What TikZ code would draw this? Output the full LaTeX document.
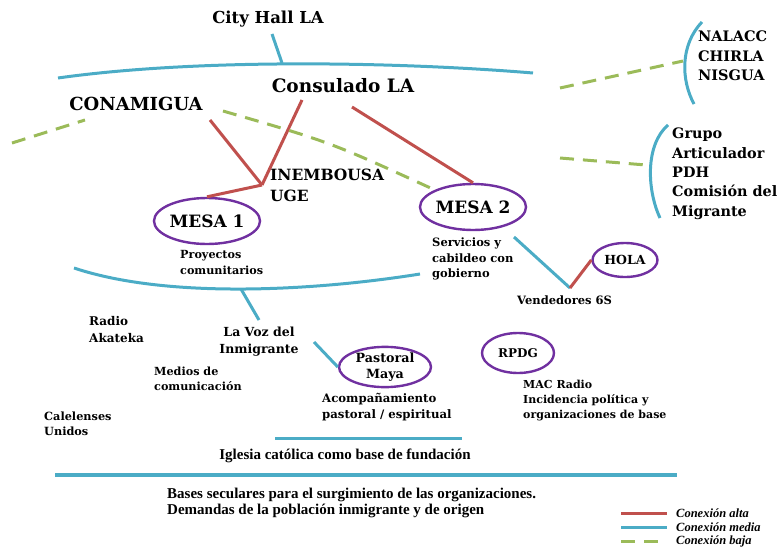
\documentclass[tikz,border=0pt]{standalone}
\usepackage{fontspec}
\setmainfont{DejaVu Serif}
\newfontfamily\condfont{Liberation Serif}
\usepackage{xcolor}
\usetikzlibrary{positioning, shapes.geometric}

\definecolor{alta}{HTML}{C0504D}
\definecolor{media}{HTML}{4BACC6}
\definecolor{baja}{HTML}{9BBB59}
\definecolor{mesa}{HTML}{7030A0}

\newcommand{\fs}[2]{\bfseries\fontsize{#1}{#2}\selectfont}

\tikzset{
  alto/.style={draw=alta, line width=3pt},
  medio/.style={draw=media, line width=3pt},
  bajo/.style={draw=baja, line width=3pt, dash pattern=on 14pt off 9pt},
  org/.style={inner sep=0pt, align=left, anchor=north west},
  rueda/.style={ellipse, draw=mesa, line width=2.4pt, inner sep=0pt, align=center},
}

\begin{document}
\begin{tikzpicture}[x=1pt, y=-1pt]
        \useasboundingbox (0,0) rectangle (777,552);
%
        \node[font=\fs{16.5}{20}] (city) at (268,19) {City Hall LA};
        \node[font=\fs{18.5}{22}] (consulado) at (343,86) {Consulado LA};
        \node[font=\fs{18}{22}] (conamigua) at (136,104) {CONAMIGUA};
        \node[org, font=\fs{15.5}{21}] (inembousa) at (270,169) {INEMBOUSA\\UGE};
        \node[rueda, minimum width=99pt, minimum height=46pt, font=\fs{17}{20}] (mesa1) at (207,221) {MESA 1};
        \node[rueda, minimum width=98pt, minimum height=46pt, font=\fs{17}{20}] (mesa2) at (473,207) {MESA 2};
        \node[org, font=\fs{11.2}{16}] (proyectos) at (180,250) {Proyectos\\comunitarios};
        \node[org, font=\fs{11.5}{15.5}] (servicios) at (432,238) {Servicios y\\cabildeo con\\gobierno};
        \node[rueda, minimum width=65pt, minimum height=34pt, font=\fs{12.5}{15}] (hola) at (625,260) {HOLA};
        \node[org, font=\fs{11.5}{14}] (vendedores) at (517,296) {Vendedores 6S};
        \node[rueda, minimum width=72pt, minimum height=40pt, font=\fs{12}{15}] (rpdg) at (518,353) {RPDG};
        \node[org, font=\fs{11}{15}] (mac) at (523,380) {MAC Radio\\Incidencia política y\\organizaciones de base};
        \node[org, font=\fs{14.5}{19.5}] (nalacc) at (698,31) {NALACC\\CHIRLA\\NISGUA};
        \node[org, font=\fs{14.4}{19.3}] (grupo) at (672,128) {Grupo\\Articulador\\PDH\\Comisión del\\Migrante};
        \node[org, font=\fs{12}{17}] (radio) at (89,316) {Radio\\Akateka};
        \node[align=center, inner sep=0pt, font=\fs{12.5}{17}] (voz) at (259,342) {La Voz del\\Inmigrante};
        \node[org, font=\fs{11.2}{15}] (medios) at (154,367) {Medios de\\comunicación};
        \node[rueda, minimum width=92pt, minimum height=40pt, font=\fs{12.7}{16}] (pastoral) at (385,367) {Pastoral\\Maya};
        \node[org, font=\fs{11.7}{16}] (acomp) at (322,393) {Acompañamiento\\pastoral / espiritual};
        \node[org, font=\fs{11.3}{15}] (calelenses) at (44,412) {Calelenses\\Unidos};
        \node[font=\condfont\fs{15}{18}] (iglesia) at (345,456) {Iglesia católica como base de fundación};
        \node[org, font=\condfont\fs{15}{16}] (bases) at (167,488)
            {Bases seculares para el surgimiento de las organizaciones.\\Demandas de la población inmigrante y de origen};
%
        % puntos libres de los conectores
        \coordinate (ch) at (272,34);
        \coordinate (arcA) at (58,78);
        \coordinate (arcApk) at (282,63);
        \coordinate (arcB) at (533,73);
        \coordinate (emb) at (262,185);
        \coordinate (co1) at (210,120);
        \coordinate (cs1) at (302,100);
        \coordinate (cs2) at (352,107);
        \coordinate (bj1) at (12,143);
        \coordinate (bj2) at (85,120);
        \coordinate (bj3) at (223,111);
        \coordinate (bj4) at (560,88);
        \coordinate (bj5) at (683,61);
        \coordinate (bj6) at (560,158);
        \coordinate (bj7) at (646,165);
        \coordinate (bajoA) at (74,268);
        \coordinate (bajoB) at (420,274);
        \coordinate (bajoV) at (241,289);
        \coordinate (vz1) at (259,320);
        \coordinate (vz2) at (314,342);
        \coordinate (sv1) at (514,237);
        \coordinate (v6) at (570,288);
        \coordinate (ig1) at (275,438);
        \coordinate (ig2) at (462,438);
        \coordinate (bs1) at (55,475);
        \coordinate (bs2) at (677,475);
%
        \draw[medio] (arcA) .. controls (200,58) and (400,62) .. (arcB);
        \draw[medio] (bajoA) .. controls (170,300) and (320,290) .. (bajoB);
        \path[medio]
        (ch) edge (arcApk)
        (bajoV) edge (vz1)
        (vz2) edge (pastoral.west)
        (sv1) edge (v6)
        (ig1) edge (ig2);
        \draw[medio, line width=4pt] (bs1) -- (bs2);
        \draw[medio] (702,22) .. controls (680,45) and (681,80) .. (694,104);
        \draw[medio] (668,125) .. controls (645,145) and (647,190) .. (660,218);
%
        \path[alto]
        (co1) edge (emb)
        (cs1) edge (emb)
        (emb) edge (mesa1.north)
        (cs2) edge (mesa2.north)
        (v6) edge (hola.west);
%
        \draw[bajo] (bj1) -- (bj2);
        \draw[bajo] (bj3) .. controls (330,142) .. (mesa2.north west);
        \draw[bajo] (bj4) -- (bj5);
        \draw[bajo] (bj6) -- (bj7);
%
        % leyenda
        \foreach \tipo/\txt [count=\i] in {alto/alta, medio/media, bajo/baja}
        {
            \coordinate (ley\i a) at (621,500+13.7*\i);
            \coordinate (ley\i b) at (667,500+13.7*\i);
            \draw[\tipo] (ley\i a) -- (ley\i b);
            \node[anchor=west, inner sep=0pt, font=\condfont\itshape\fs{12.5}{14}] (ley\i) at (676,500+13.7*\i)
                {Conexión \txt};
        }
\end{tikzpicture}
\end{document}
